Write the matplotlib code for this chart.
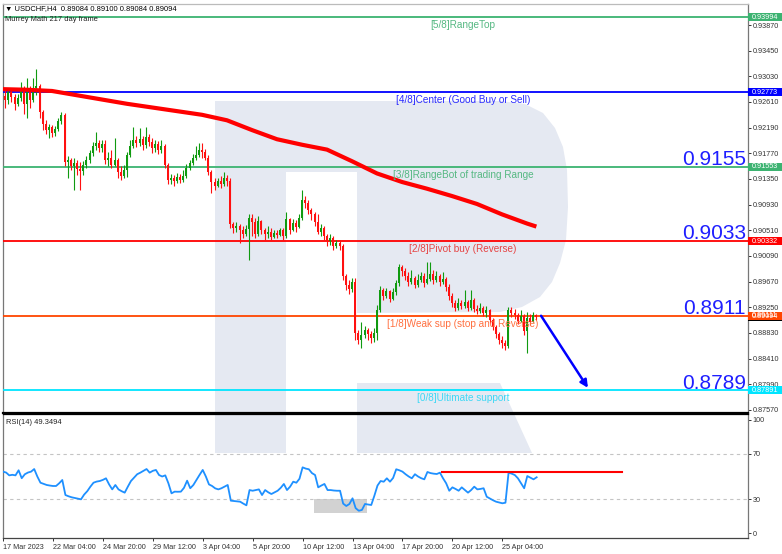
import numpy as np
import matplotlib
matplotlib.use("Agg")
import matplotlib.pyplot as plt
from matplotlib.patches import Polygon, Rectangle
from matplotlib.transforms import blended_transform_factory

plt.rcParams['font.family'] = ['Liberation Sans', 'DejaVu Sans']

# USDCHF H4, 17 Mar - 26 Apr 2023 (bar 0 = 17 Mar 08:00)
first_open = 0.9267
close = [
    0.9271, 0.9264, 0.9277, 0.9269, 0.9258, 0.9267, 0.9281, 0.9258, 0.9277, 0.9264,
    0.9284, 0.9287, 0.9245, 0.9225, 0.9215, 0.9220, 0.9210, 0.9217, 0.9230, 0.9240,
    0.9163, 0.9166, 0.9156, 0.9161, 0.9151, 0.9148, 0.9158, 0.9166, 0.9177, 0.9189,
    0.9194, 0.9186, 0.9192, 0.9166, 0.9169, 0.9158, 0.9166, 0.9146, 0.9140, 0.9150,
    0.9174, 0.9189, 0.9199, 0.9194, 0.9200, 0.9191, 0.9204, 0.9195, 0.9186, 0.9192,
    0.9182, 0.9189, 0.9158, 0.9133, 0.9137, 0.9132, 0.9138, 0.9133, 0.9140, 0.9153,
    0.9161, 0.9169, 0.9174, 0.9182, 0.9179, 0.9169, 0.9146, 0.9130, 0.9123, 0.9132,
    0.9127, 0.9137, 0.9132, 0.9061, 0.9055, 0.9058, 0.9051, 0.9045, 0.9053, 0.9071,
    0.9065, 0.9045, 0.9066, 0.9051, 0.9045, 0.9048, 0.9040, 0.9047, 0.9043, 0.9051,
    0.9042, 0.9069, 0.9051, 0.9063, 0.9056, 0.9071, 0.9101, 0.9096, 0.9084, 0.9078,
    0.9065, 0.9048, 0.9055, 0.9042, 0.9033, 0.9038, 0.9025, 0.9030, 0.9025, 0.8976,
    0.8961, 0.8955, 0.8966, 0.8883, 0.8871, 0.8880, 0.8888, 0.8881, 0.8875, 0.8883,
    0.8920, 0.8953, 0.8943, 0.8952, 0.8938, 0.8950, 0.8965, 0.8991, 0.8984, 0.8976,
    0.8966, 0.8973, 0.8961, 0.8970, 0.8976, 0.8965, 0.8971, 0.8979, 0.8970, 0.8976,
    0.8966, 0.8971, 0.8958, 0.8943, 0.8932, 0.8924, 0.8932, 0.8927, 0.8934, 0.8924,
    0.8937, 0.8922, 0.8919, 0.8924, 0.8916, 0.8920, 0.8904, 0.8893, 0.8881, 0.8871,
    0.8866, 0.8862, 0.8920, 0.8916, 0.8912, 0.8902, 0.8911, 0.8886, 0.8907, 0.8901,
    0.8912, 0.8909,
]
high = [
    0.9284, 0.9281, 0.9284, 0.9284, 0.9274, 0.9274, 0.9294, 0.9287, 0.9300, 0.9287,
    0.9300, 0.9315, 0.9290, 0.9248, 0.9231, 0.9225, 0.9223, 0.9222, 0.9235, 0.9245,
    0.9243, 0.9173, 0.9169, 0.9169, 0.9166, 0.9163, 0.9164, 0.9173, 0.9182, 0.9195,
    0.9212, 0.9199, 0.9199, 0.9199, 0.9179, 0.9182, 0.9202, 0.9169, 0.9156, 0.9158,
    0.9179, 0.9199, 0.9220, 0.9205, 0.9218, 0.9205, 0.9220, 0.9209, 0.9202, 0.9199,
    0.9197, 0.9199, 0.9192, 0.9161, 0.9143, 0.9141, 0.9145, 0.9143, 0.9150, 0.9159,
    0.9166, 0.9176, 0.9189, 0.9194, 0.9194, 0.9184, 0.9174, 0.9150, 0.9137, 0.9137,
    0.9140, 0.9146, 0.9141, 0.9137, 0.9065, 0.9065, 0.9061, 0.9058, 0.9060, 0.9078,
    0.9078, 0.9071, 0.9074, 0.9068, 0.9055, 0.9058, 0.9055, 0.9051, 0.9051, 0.9055,
    0.9055, 0.9081, 0.9071, 0.9069, 0.9068, 0.9078, 0.9117, 0.9107, 0.9101, 0.9087,
    0.9081, 0.9078, 0.9061, 0.9058, 0.9045, 0.9045, 0.9042, 0.9035, 0.9035, 0.9028,
    0.8979, 0.8970, 0.8973, 0.8973, 0.8888, 0.8901, 0.8894, 0.8891, 0.8886, 0.8891,
    0.8929, 0.8960, 0.8956, 0.8956, 0.8953, 0.8956, 0.8970, 0.8996, 0.8994, 0.8989,
    0.8983, 0.8986, 0.8976, 0.8979, 0.8983, 0.8981, 0.8999, 0.8999, 0.8986, 0.8984,
    0.8979, 0.8983, 0.8974, 0.8963, 0.8948, 0.8937, 0.8940, 0.8937, 0.8953, 0.8937,
    0.8953, 0.8940, 0.8929, 0.8932, 0.8927, 0.8927, 0.8922, 0.8907, 0.8896, 0.8884,
    0.8878, 0.8871, 0.8925, 0.8925, 0.8922, 0.8916, 0.8920, 0.8914, 0.8917, 0.8914,
    0.8917, 0.8914,
]
low = [
    0.9258, 0.9251, 0.9258, 0.9261, 0.9248, 0.9254, 0.9263, 0.9241, 0.9235, 0.9251,
    0.9261, 0.9272, 0.9235, 0.9215, 0.9209, 0.9202, 0.9204, 0.9205, 0.9213, 0.9225,
    0.9156, 0.9137, 0.9150, 0.9117, 0.9141, 0.9117, 0.9141, 0.9153, 0.9161, 0.9173,
    0.9182, 0.9179, 0.9179, 0.9159, 0.9156, 0.9153, 0.9156, 0.9137, 0.9133, 0.9137,
    0.9138, 0.9171, 0.9186, 0.9187, 0.9189, 0.9182, 0.9186, 0.9189, 0.9177, 0.9179,
    0.9176, 0.9177, 0.9153, 0.9127, 0.9127, 0.9123, 0.9128, 0.9128, 0.9130, 0.9137,
    0.9150, 0.9158, 0.9166, 0.9171, 0.9169, 0.9166, 0.9141, 0.9112, 0.9117, 0.9122,
    0.9120, 0.9123, 0.9123, 0.9055, 0.9047, 0.9048, 0.9030, 0.9038, 0.9042, 0.9002,
    0.9042, 0.9038, 0.9042, 0.9045, 0.9035, 0.9038, 0.9035, 0.9038, 0.9038, 0.9042,
    0.9035, 0.9038, 0.9045, 0.9050, 0.9048, 0.9055, 0.9068, 0.9087, 0.9078, 0.9068,
    0.9058, 0.9045, 0.9042, 0.9035, 0.9025, 0.9027, 0.9019, 0.9022, 0.9019, 0.8970,
    0.8953, 0.8947, 0.8950, 0.8871, 0.8865, 0.8858, 0.8875, 0.8871, 0.8866, 0.8868,
    0.8871, 0.8917, 0.8937, 0.8940, 0.8934, 0.8937, 0.8945, 0.8960, 0.8976, 0.8970,
    0.8960, 0.8963, 0.8956, 0.8958, 0.8966, 0.8958, 0.8963, 0.8968, 0.8963, 0.8966,
    0.8960, 0.8963, 0.8952, 0.8937, 0.8925, 0.8919, 0.8920, 0.8922, 0.8924, 0.8919,
    0.8920, 0.8917, 0.8914, 0.8916, 0.8911, 0.8909, 0.8899, 0.8888, 0.8875, 0.8865,
    0.8858, 0.8855, 0.8858, 0.8909, 0.8906, 0.8898, 0.8901, 0.8880, 0.8850, 0.8896,
    0.8901, 0.8904,
]

# moving average (thick red line), read every 8 bars
ma_bar = [0, 8, 16, 24, 32, 40, 48, 56, 64, 72, 80, 88, 96, 104, 112, 120,
          128, 136, 144, 152, 160, 168, 171]
ma_val = [0.9282, 0.9281, 0.9279, 0.9272, 0.9265, 0.9258, 0.9252, 0.9246, 0.9240,
          0.9231, 0.9215, 0.9200, 0.9191, 0.9183, 0.9164, 0.9144, 0.9130, 0.9119,
          0.9107, 0.9094, 0.9077, 0.9062, 0.9057]

rsi = [
    54.3, 53.5, 51.0, 51.5, 51.0, 55.5, 48.5, 52.0, 53.5, 54.3,
    56.6, 50.0, 44.5, 43.5, 42.5, 42.0, 41.6, 41.6, 44.0, 46.9,
    33.6, 32.5, 31.6, 31.0, 30.5, 29.8, 34.0, 37.0, 41.0, 44.5,
    45.5, 46.0, 47.0, 48.4, 43.0, 38.6, 42.5, 38.6, 37.0, 35.7,
    41.0, 46.0, 49.0, 52.0, 53.4, 55.0, 56.6, 53.4, 55.0, 55.8,
    51.3, 50.0, 51.0, 44.0, 35.1, 36.6, 36.5, 36.6, 40.0, 46.3,
    39.6, 42.5, 47.0, 51.5, 55.8, 50.0, 43.0, 41.6, 39.5, 38.6,
    39.6, 41.0, 42.5, 28.6, 28.3, 28.0, 27.7, 26.0, 24.5, 38.0,
    37.4, 38.0, 38.6, 33.6, 38.0, 36.0, 34.5, 36.0, 37.4, 40.0,
    43.4, 38.0, 41.0, 45.4, 44.5, 48.0, 58.1, 57.0, 56.4, 53.0,
    51.3, 40.4, 42.0, 43.4, 38.0, 38.0, 37.6, 37.4, 37.4, 26.0,
    23.9, 25.7, 30.7, 22.0, 19.7, 20.4, 25.7, 25.2, 24.8, 33.0,
    42.0, 46.0, 45.4, 48.4, 45.4, 48.7, 56.4, 55.5, 54.3, 52.0,
    50.0, 48.4, 52.0, 50.0, 48.5, 47.5, 54.0, 53.0, 52.5, 52.2,
    53.4, 48.4, 44.0, 37.4, 40.4, 39.0, 37.4, 40.4, 38.0, 35.7,
    38.0, 41.0, 38.6, 39.0, 39.6, 32.1, 30.5, 29.0, 27.7, 27.0,
    26.3, 26.8, 53.4, 52.5, 51.3, 48.4, 44.0, 39.6, 50.4, 49.0,
    47.5, 49.3,
]

# Murrey Math levels
levels = [0.93994, 0.92773, 0.91553, 0.90332, 0.89111, 0.87891]
level_names = ['[5/8]RangeTop', '[4/8]Center (Good Buy or Sell)',
               '[3/8]RangeBot of trading Range', '[2/8]Pivot buy (Reverse)',
               '[1/8]Weak sup (stop and Reverse)', '[0/8]Ultimate support']
level_colors = ['#3cb371', '#0000ff', '#3cb371', '#ff0000', '#ff4500', '#00e5ff']
label_colors = ['#55b882', '#2a2aff', '#55b882', '#e64545', '#ff7040', '#3fd8f5']

current_price = 0.89094
header = '\u25bc USDCHF,H4  0.89084 0.89100 0.89084 0.89094'

price_ticks = [0.93870, 0.93450, 0.93030, 0.92610, 0.92190, 0.91770, 0.91350,
               0.90930, 0.90510, 0.90090, 0.89670, 0.89250, 0.88830, 0.88410,
               0.87990, 0.87570]
date_bars = [0, 16, 32, 48, 64, 80, 96, 112, 128, 144, 160]
date_labels = ['17 Mar 2023', '22 Mar 04:00', '24 Mar 20:00', '29 Mar 12:00',
               '3 Apr 04:00', '5 Apr 20:00', '10 Apr 12:00', '13 Apr 04:00',
               '17 Apr 20:00', '20 Apr 12:00', '25 Apr 04:00']

# forecast arrow (bar, price)
arrow_from = (172.5, 0.8911)
arrow_to = (187.5, 0.8793)

# RSI annotations
rsi_box_bars = (99.5, 116.5)
rsi_box_vals = (17.4, 30)
rsi_line_bars = (140.7, 198.3)
rsi_line_val = 54

# ---------------------------------------------------------------
W, H = 782, 554
fig = plt.figure(figsize=(W / 100, H / 100), dpi=100, facecolor='white')


def fpx(x, y):
    return (x / W, 1 - y / H)


# watermark "R" behind the chart
r_body = [(215, 453), (215, 101), (500, 101), (525, 104), (543, 113), (555, 128),
          (563, 147), (567, 170), (568, 207), (566, 240), (560, 263), (552, 282),
          (540, 297), (522, 307), (500, 312), (357, 313), (357, 172), (286, 172),
          (286, 453)]
r_leg = [(357, 383), (500, 383), (532, 453), (357, 453)]
for shape in (r_body, r_leg):
    fig.patches.append(Polygon([fpx(*p) for p in shape], closed=True,
                               transform=fig.transFigure, fc='#e5e9f2',
                               ec='none', zorder=-1))

ax = fig.add_axes([3 / W, 1 - 413 / H, 745 / W, 409 / H])
ax2 = fig.add_axes([3 / W, 1 - 538 / H, 745 / W, 124 / H])
for a in (ax, ax2):
    a.set_facecolor('none')
    a.set_xlim(0.32, 238.72)

ax.set_ylim(0.87518, 0.94214)
ax2.set_ylim(-4.42, 105.3)

# candles
n = len(close)
bars = np.arange(n)
cls = np.array(close)
opn = np.array([first_open] + close[:-1])
hi = np.maximum(np.array(high), np.maximum(opn, cls))
lo = np.minimum(np.array(low), np.minimum(opn, cls))
cols = np.where(cls >= opn, '#109a10', '#ff1010')
ax.vlines(bars, lo, hi, colors=cols, lw=0.8, zorder=4)
ax.bar(bars, np.maximum(np.abs(cls - opn), 0.00004), bottom=np.minimum(opn, cls),
       width=0.62, color=cols, lw=0, zorder=4)

# moving average
ax.plot(ma_bar, ma_val, color='#ff0000', lw=3, solid_capstyle='butt', zorder=5)

# Murrey levels
for lv, name, lc, tc in zip(levels, level_names, level_colors, label_colors):
    ax.axhline(lv, color=lc, lw=1.3, zorder=3)
    ax.annotate(name, (147.5, lv), xytext=(0, -2.2), textcoords='offset points',
                ha='center', va='top', fontsize=7.2, color=tc, zorder=6)

for lv in levels[2:]:
    ax.annotate(f'{lv:.4f}', (238.1, lv), xytext=(0, 1.2), textcoords='offset points',
                ha='right', va='baseline', fontsize=15, color='#1f1fff', zorder=6)

# forecast arrow
ax.annotate('', xy=arrow_to, xytext=arrow_from,
            arrowprops=dict(arrowstyle='-|>', color='#0000ff', lw=1.8,
                            mutation_scale=11, shrinkA=0, shrinkB=0), zorder=6)

# price scale
ax.yaxis.tick_right()
ax.set_yticks(price_ticks)
ax.set_yticklabels([f'{t:.5f}' for t in price_ticks])
ax.tick_params(axis='y', length=2.2, width=0.7, pad=1.2, labelsize=5.2,
               colors='#333333')
ax.set_xticks([])

# price tags on the right scale
tr = blended_transform_factory(ax.transAxes, ax.transData)
tag_h = 0.00131
tags = [(current_price, '#000000')] + list(zip(levels, level_colors))
for lv, c in tags:
    ax.add_patch(Rectangle((1.0, lv - tag_h / 2), 0.0456, tag_h, transform=tr,
                           fc=c, ec='none', clip_on=False, zorder=7))
    ax.text(1.0055, lv, f'{lv:.5f}', transform=tr, ha='left', va='center',
            fontsize=5.2, color='white', clip_on=False, zorder=8)

# header texts
fig.text(*fpx(5, 8.5), header, fontsize=5.4, va='center', ha='left', color='black')
fig.text(*fpx(5, 19.5), 'Murrey Math 217 day frame', fontsize=5.4, va='center',
         ha='left', color='#222222', zorder=1)

# RSI panel
ax2.add_patch(Rectangle((rsi_box_bars[0], rsi_box_vals[0]),
                        rsi_box_bars[1] - rsi_box_bars[0],
                        rsi_box_vals[1] - rsi_box_vals[0],
                        fc='#d2d2d2', ec='none', zorder=1))
for v in (70, 30):
    ax2.axhline(v, color='#c4c4c4', lw=0.8, ls=(0, (3, 3)), zorder=2)
ax2.plot(bars, rsi, color='#1e90ff', lw=1.3, zorder=4)
ax2.plot(rsi_line_bars, [rsi_line_val] * 2, color='#ff0000', lw=1.5, zorder=5)
ax2.text(0.004, 0.93, 'RSI(14) 49.3494', transform=ax2.transAxes, fontsize=5.4,
         va='center', ha='left', color='#222222')

ax2.yaxis.tick_right()
ax2.set_yticks([0, 30, 70, 100])
ax2.tick_params(axis='y', length=2.2, width=0.7, pad=1.2, labelsize=5.2,
                colors='#333333')
ax2.set_xticks(date_bars)
ax2.set_xticklabels(date_labels, ha='left')
ax2.tick_params(axis='x', length=2.5, width=0.7, pad=1.5, labelsize=5.2,
                colors='#333333')

# frames
for name, sp in ax.spines.items():
    sp.set_linewidth(0.9)
    sp.set_color('#777777')
ax.spines['top'].set_color('#bbbbbb')
ax.spines['bottom'].set_color('black')
ax.spines['bottom'].set_linewidth(1.6)
for name, sp in ax2.spines.items():
    sp.set_linewidth(0.9)
    sp.set_color('#777777')
ax2.spines['top'].set_color('black')
ax2.spines['bottom'].set_color('#444444')

fig.savefig('out.png', dpi=100, facecolor='white')
